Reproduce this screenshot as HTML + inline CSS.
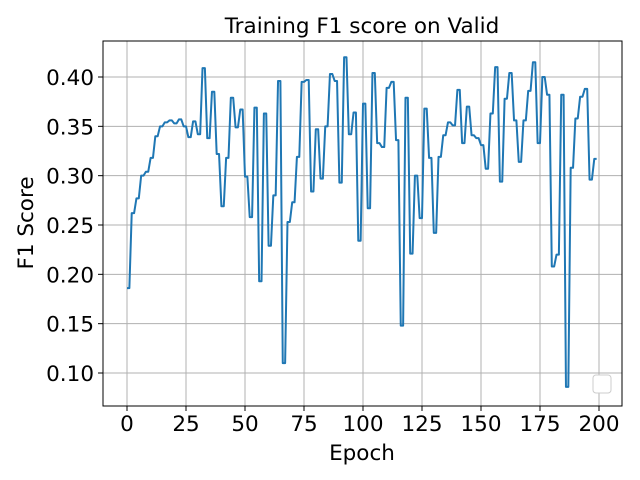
<!DOCTYPE html>
<html><head><meta charset="utf-8"><style>
html,body{margin:0;padding:0;background:#fff;}
svg{display:block;font-family:"DejaVu Sans","Liberation Sans",sans-serif;}
</style></head><body>
<svg id="chart" width="640" height="480">
<text x="362" y="33" text-anchor="middle" font-size="21.5">Training F1 score on Valid</text>
<text x="0" y="0" transform="translate(33,223) rotate(-90)" text-anchor="middle" font-size="21.5">F1 Score</text>
<text x="362" y="460" text-anchor="middle" font-size="21.5">Epoch</text>
<g id="grid"></g><g id="ticks"></g>
<polyline id="line" fill="none" stroke="#1f77b4" stroke-width="2" stroke-linejoin="round"/>
<rect x="103" y="41" width="519" height="365" fill="none" stroke="#000" stroke-width="1"/>
<rect x="593" y="375" width="18" height="18" rx="3" fill="#fff" stroke="#ccc" stroke-width="1"/>
</svg>
<script>
const pairValues=[0.186,0.262,0.277,0.300,0.304,0.318,0.340,0.350,0.354,0.356,0.353,0.357,0.350,0.339,0.355,0.342,0.409,0.338,0.385,0.322,0.269,0.318,0.379,0.349,0.367,0.299,0.258,0.369,0.193,0.363,0.229,0.280,0.396,0.110,0.253,0.273,0.319,0.395,0.397,0.284,0.347,0.297,0.350,0.403,0.396,0.293,0.420,0.342,0.364,0.234,0.373,0.267,0.404,0.333,0.329,0.389,0.395,0.336,0.148,0.379,0.221,0.300,0.257,0.368,0.318,0.242,0.319,0.341,0.354,0.351,0.387,0.333,0.370,0.341,0.338,0.331,0.307,0.363,0.410,0.294,0.378,0.404,0.356,0.314,0.356,0.386,0.415,0.333,0.400,0.382,0.208,0.220,0.382,0.086,0.308,0.358,0.380,0.388,0.296,0.317];
const xTicks=[0,25,50,75,100,125,150,175,200];
const yTicks=[0.10,0.15,0.20,0.25,0.30,0.35,0.40];
const L=103,R=622,T=41,B=406;
function xs(e){return 127+(e)*(599-127)/200;}
function ys(v){return 373-(v-0.10)*(373-77)/0.30;}
const NS="http://www.w3.org/2000/svg";
const grid=document.getElementById('grid'),ticks=document.getElementById('ticks');
function mk(tag,attrs,parent){const el=document.createElementNS(NS,tag);for(const k in attrs)el.setAttribute(k,attrs[k]);parent.appendChild(el);return el;}
xTicks.forEach(t=>{const x=xs(t);
 const g=mk('line',{x1:x,x2:x,y1:T,y2:B,stroke:'#b0b0b0','stroke-width':1},grid);
 
 
 const tk=mk('line',{x1:x,x2:x,y1:B,y2:B+5,stroke:'#000','stroke-width':1},ticks);
 
 
 const tx=mk('text',{x:x,y:B+25,'text-anchor':'middle','font-size':21.5},ticks);tx.textContent=t;
 
 
});
yTicks.forEach(t=>{const y=ys(t);
 const g=mk('line',{x1:L,x2:R,y1:y,y2:y,stroke:'#b0b0b0','stroke-width':1},grid);
 
 
 const tk=mk('line',{x1:L-5,x2:L,y1:y,y2:y,stroke:'#000','stroke-width':1},ticks);
 
 
 const tx=mk('text',{x:L-9,y:y+8,'text-anchor':'end','font-size':21.5},ticks);tx.textContent=t.toFixed(2);
 
 
});
const pts=[];
pairValues.forEach((v,k)=>{pts.push(xs(2*k)+','+ys(v));pts.push(xs(2*k+1)+','+ys(v));});
document.getElementById('line').setAttribute('points',pts.join(' '));
</script>
</body></html>
